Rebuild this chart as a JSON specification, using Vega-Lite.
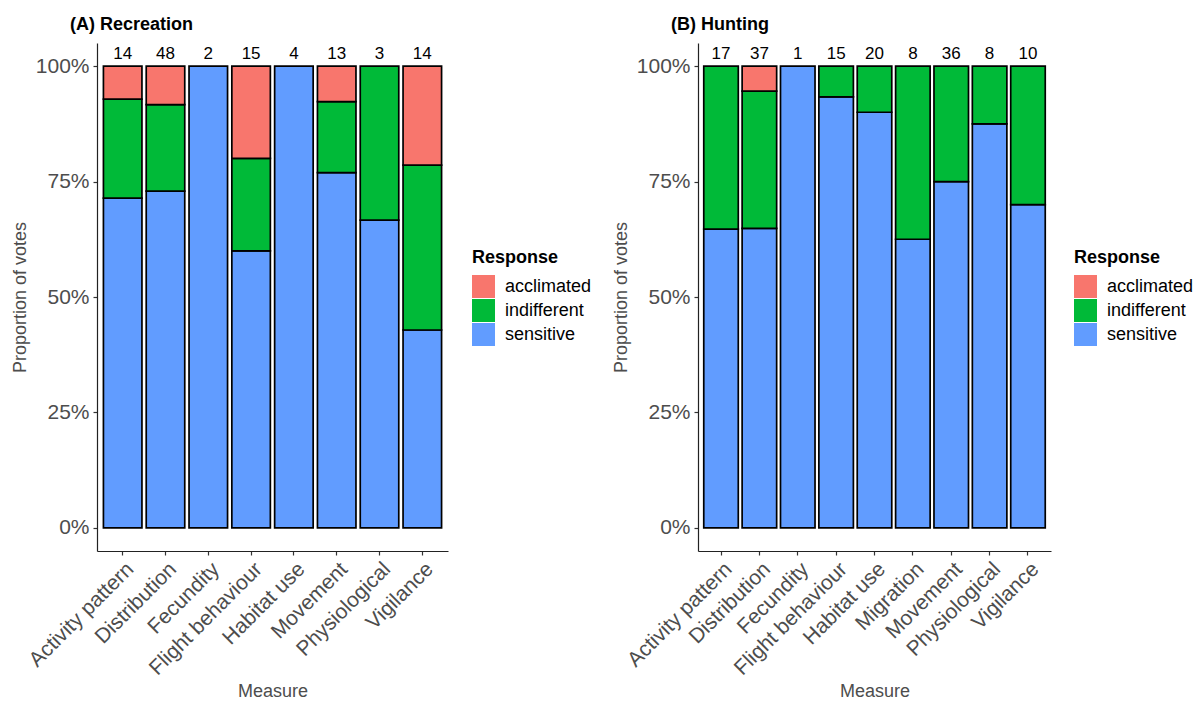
{
  "$schema": "https://vega.github.io/schema/vega-lite/v6.json",
  "background": "white",
  "padding": {"left": 11, "top": 16, "right": 2, "bottom": 2},
  "datasets": {
    "rec": [
      {"measure": "Activity pattern", "response": "sensitive", "count": 10},
      {"measure": "Activity pattern", "response": "indifferent", "count": 3},
      {"measure": "Activity pattern", "response": "acclimated", "count": 1},
      {"measure": "Distribution", "response": "sensitive", "count": 35},
      {"measure": "Distribution", "response": "indifferent", "count": 9},
      {"measure": "Distribution", "response": "acclimated", "count": 4},
      {"measure": "Fecundity", "response": "sensitive", "count": 2},
      {"measure": "Flight behaviour", "response": "sensitive", "count": 9},
      {"measure": "Flight behaviour", "response": "indifferent", "count": 3},
      {"measure": "Flight behaviour", "response": "acclimated", "count": 3},
      {"measure": "Habitat use", "response": "sensitive", "count": 4},
      {"measure": "Movement", "response": "sensitive", "count": 10},
      {"measure": "Movement", "response": "indifferent", "count": 2},
      {"measure": "Movement", "response": "acclimated", "count": 1},
      {"measure": "Physiological", "response": "sensitive", "count": 2},
      {"measure": "Physiological", "response": "indifferent", "count": 1},
      {"measure": "Vigilance", "response": "sensitive", "count": 6},
      {"measure": "Vigilance", "response": "indifferent", "count": 5},
      {"measure": "Vigilance", "response": "acclimated", "count": 3}
    ],
    "hunt": [
      {"measure": "Activity pattern", "response": "sensitive", "count": 11},
      {"measure": "Activity pattern", "response": "indifferent", "count": 6},
      {"measure": "Distribution", "response": "sensitive", "count": 24},
      {"measure": "Distribution", "response": "indifferent", "count": 11},
      {"measure": "Distribution", "response": "acclimated", "count": 2},
      {"measure": "Fecundity", "response": "sensitive", "count": 1},
      {"measure": "Flight behaviour", "response": "sensitive", "count": 14},
      {"measure": "Flight behaviour", "response": "indifferent", "count": 1},
      {"measure": "Habitat use", "response": "sensitive", "count": 18},
      {"measure": "Habitat use", "response": "indifferent", "count": 2},
      {"measure": "Migration", "response": "sensitive", "count": 5},
      {"measure": "Migration", "response": "indifferent", "count": 3},
      {"measure": "Movement", "response": "sensitive", "count": 27},
      {"measure": "Movement", "response": "indifferent", "count": 9},
      {"measure": "Physiological", "response": "sensitive", "count": 7},
      {"measure": "Physiological", "response": "indifferent", "count": 1},
      {"measure": "Vigilance", "response": "sensitive", "count": 7},
      {"measure": "Vigilance", "response": "indifferent", "count": 3}
    ]
  },
  "config": {
    "font": "Liberation Sans",
    "view": {"stroke": null},
    "axis": {
      "grid": false,
      "domainColor": "#222222",
      "domainWidth": 1.2,
      "tickColor": "#333333",
      "tickWidth": 1.2,
      "tickSize": 4,
      "labelColor": "#4d4d4d",
      "titleColor": "#4d4d4d",
      "labelFont": "Liberation Sans",
      "titleFont": "Liberation Sans",
      "titleFontWeight": "normal",
      "labelFontSize": 21,
      "titleFontSize": 18
    },
    "legend": {
      "titleFont": "Liberation Sans",
      "labelFont": "Liberation Sans",
      "titleFontSize": 18,
      "titleFontWeight": "bold",
      "titleColor": "black",
      "labelFontSize": 18,
      "labelColor": "black",
      "symbolType": "square",
      "symbolSize": 529,
      "symbolStrokeWidth": 0,
      "symbolOpacity": 1,
      "rowPadding": 1,
      "labelOffset": 10,
      "titlePadding": 8
    },
    "title": {"font": "Liberation Sans", "fontSize": 18, "fontWeight": "bold", "color": "black", "anchor": "start", "frame": "group"}
  },
  "resolve": {"scale": {"color": "independent"}, "legend": {"color": "independent"}},
  "spacing": 20,
  "hconcat": [
    {
      "title": {"text": "(A) Recreation", "dx": -27, "offset": 9},
      "width": 351,
      "height": 508,
      "data": {"name": "rec"},
      "layer": [
        {
          "mark": {"type": "bar", "stroke": "black", "strokeWidth": 1.7},
          "encoding": {
            "x": {"field": "measure", "type": "nominal", "title": "Measure",
              "scale": {"paddingInner": 0.1, "paddingOuter": 0.15},
              "axis": {"labelAngle": -45, "labelAlign": "right", "labelBaseline": "top", "labelPadding": 3, "titlePadding": 4}},
            "y": {"field": "count", "type": "quantitative", "stack": "normalize", "title": "Proportion of votes",
              "scale": {"domain": [-0.05, 1.05], "nice": false, "zero": false},
              "axis": {"values": [0, 0.25, 0.5, 0.75, 1], "format": ".0%", "labelPadding": 4, "titlePadding": 6}},
            "color": {"field": "response", "type": "nominal", "title": "Response",
              "scale": {"domain": ["acclimated", "indifferent", "sensitive"], "range": ["#F8766D", "#00BA38", "#619CFF"]},
              "legend": {"orient": "none", "legendX": 375, "legendY": 206}},
            "order": {"field": "response", "sort": "descending"}
          }
        },
        {
          "mark": {"type": "text", "fontSize": 17, "dy": -7, "baseline": "alphabetic", "color": "black"},
          "encoding": {
            "x": {"field": "measure", "type": "nominal"},
            "y": {"datum": 1},
            "text": {"aggregate": "sum", "field": "count", "type": "quantitative"}
          }
        }
      ]
    },
    {
      "title": {"text": "(B) Hunting", "dx": -27, "offset": 9},
      "width": 353,
      "height": 508,
      "data": {"name": "hunt"},
      "layer": [
        {
          "mark": {"type": "bar", "stroke": "black", "strokeWidth": 1.7},
          "encoding": {
            "x": {"field": "measure", "type": "nominal", "title": "Measure",
              "scale": {"paddingInner": 0.1, "paddingOuter": 0.15},
              "axis": {"labelAngle": -45, "labelAlign": "right", "labelBaseline": "top", "labelPadding": 3, "titlePadding": 4}},
            "y": {"field": "count", "type": "quantitative", "stack": "normalize", "title": "Proportion of votes",
              "scale": {"domain": [-0.05, 1.05], "nice": false, "zero": false},
              "axis": {"values": [0, 0.25, 0.5, 0.75, 1], "format": ".0%", "labelPadding": 4, "titlePadding": 6}},
            "color": {"field": "response", "type": "nominal", "title": "Response",
              "scale": {"domain": ["acclimated", "indifferent", "sensitive"], "range": ["#F8766D", "#00BA38", "#619CFF"]},
              "legend": {"orient": "none", "legendX": 376, "legendY": 206}},
            "order": {"field": "response", "sort": "descending"}
          }
        },
        {
          "mark": {"type": "text", "fontSize": 17, "dy": -7, "baseline": "alphabetic", "color": "black"},
          "encoding": {
            "x": {"field": "measure", "type": "nominal"},
            "y": {"datum": 1},
            "text": {"aggregate": "sum", "field": "count", "type": "quantitative"}
          }
        }
      ]
    }
  ]
}
